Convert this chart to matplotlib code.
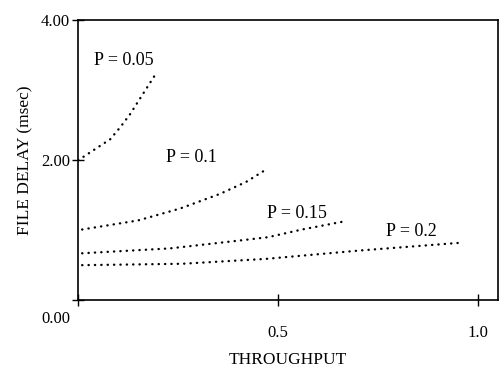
import numpy as np
import matplotlib
matplotlib.use('Agg')
import matplotlib.pyplot as plt

plt.rcParams['font.family'] = ['Liberation Serif', 'DejaVu Serif']

# curves (throughput, file delay in msec)
x_p005 = [0.0, 0.08, 0.105, 0.13, 0.16, 0.198]
y_p005 = [2.0, 2.30, 2.47, 2.66, 2.93, 3.27]

x_p01 = [0.01, 0.15, 0.255, 0.355, 0.42, 0.465]
y_p01 = [1.01, 1.14, 1.31, 1.52, 1.69, 1.85]

x_p015 = [0.01, 0.23, 0.40, 0.475, 0.56, 0.66]
y_p015 = [0.67, 0.74, 0.85, 0.90, 1.01, 1.12]

x_p02 = [0.01, 0.26, 0.47, 0.705, 0.955]
y_p02 = [0.50, 0.52, 0.59, 0.71, 0.82]

curve_labels = ['P = 0.05', 'P = 0.1', 'P = 0.15', 'P = 0.2']
label_x = [0.04, 0.22, 0.472, 0.77]
label_y = [3.43, 2.04, 1.24, 0.98]

fig = plt.figure(figsize=(5.01, 3.78), dpi=100)
ax = fig.add_axes([0.156, 0.206, 0.838, 0.74])

curves = [(x_p005, y_p005), (x_p01, y_p01), (x_p015, y_p015), (x_p02, y_p02)]
for xs, ys in curves:
    ax.plot(xs, ys, color='black', lw=1.7, ls=(0, (0.1, 2.6)),
            dash_capstyle='round')

for lab, lx, ly in zip(curve_labels, label_x, label_y):
    ax.text(lx, ly, lab, fontsize=13, ha='left', va='center')

ax.set_xlim(0, 1.05)
ax.set_ylim(0, 4.0)

ax.set_xticks([0.0, 0.5, 1.0])
ax.set_xticklabels(['', '0.5', '1.0'])
ax.set_yticks([0.0, 2.0, 4.0])
ax.set_yticklabels(['', '2.00', '4.00'])
ax.tick_params(axis='both', direction='inout', length=8, width=1.0,
               labelsize=12)
ax.tick_params(axis='x', pad=14)
ax.tick_params(axis='y', pad=2)
ax.text(-0.02, -0.27, '0.00', fontsize=12, ha='right', va='center')

for s in ax.spines.values():
    s.set_linewidth(1.2)

ax.set_xlabel('THROUGHPUT', fontsize=12.5, labelpad=8)
ax.set_ylabel('FILE DELAY (msec)', fontsize=12.5, labelpad=5)

fig.savefig('out.png', dpi=100)
